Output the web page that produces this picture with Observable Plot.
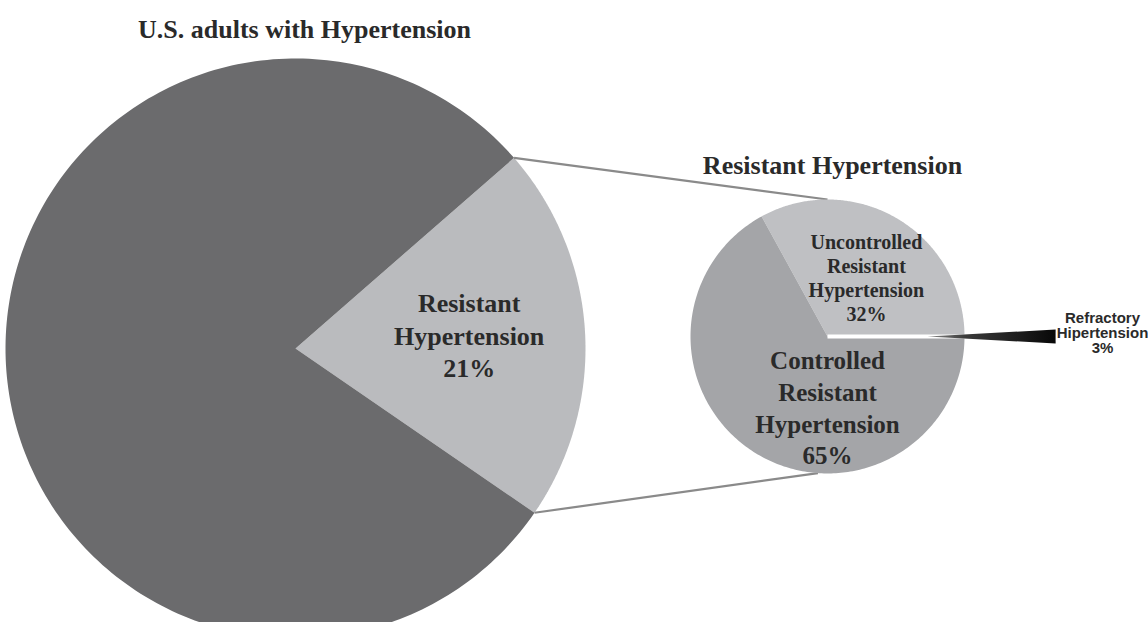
<!DOCTYPE html>
<html><head><meta charset="utf-8">
<script src="https://cdn.jsdelivr.net/npm/d3@7"></script>
<script src="https://cdn.jsdelivr.net/npm/@observablehq/plot@0.6"></script>
<style>html,body{margin:0;padding:0;background:#fff;} svg{display:block;}</style>
</head><body><div id="chart"></div>
<script>
// ---- data ----
const mainTitle = "U.S. adults with Hypertension";
const subTitle = "Resistant Hypertension";
const mainCategories = ["Resistant Hypertension", "Other"];
const mainValues = [21, 79];
const mainColors = ["#babbbe", "#6b6b6d"];
const resistantCategories = ["Uncontrolled Resistant Hypertension", "Controlled Resistant Hypertension"];
const resistantValues = [32, 65];
const resistantColors = ["#bfc0c3", "#a4a5a8"];
const refractoryCategory = "Refractory Hipertension";
const refractoryValue = 3;
const mainLabel = "Resistant\nHypertension\n21%";
const uncontrolledLabel = "Uncontrolled\nResistant\nHypertension\n32%";
const controlledLabel = "Controlled\nResistant\nHypertension\n65%";
const refractoryLabel = "Refractory\nHipertension\n3%";

// ---- layout ----
const W = 1148, H = 622;
const big = {cx: 295, cy: 348, r: 290, start: 48.9};
const small = {cx: 827, cy: 336, r: 137};
const rad = d => d * Math.PI / 180;
const pt = (c, r, a) => ({x: c.cx + r * Math.sin(a), y: c.cy - r * Math.cos(a)});

function slicePoints(c, arc, id, fill, n = 240) {
  const pts = [{x: c.cx, y: c.cy, id, fill}];
  for (let i = 0; i <= n; i++) {
    const a = arc.startAngle + (arc.endAngle - arc.startAngle) * i / n;
    const p = pt(c, c.r, a);
    pts.push({x: p.x, y: p.y, id, fill});
  }
  pts.push({x: c.cx, y: c.cy, id, fill});
  return pts;
}

const bigArcs = d3.pie().sort(null).startAngle(rad(big.start)).endAngle(rad(big.start) + 2 * Math.PI)(mainValues);
const bigRows = bigArcs.flatMap((a, i) => slicePoints(big, a, "m" + i, mainColors[i]));

const totalSmall = d3.sum(resistantValues);
const smallStart = Math.PI / 2 - resistantValues[0] / totalSmall * 2 * Math.PI;
const smallArcs = d3.pie().sort(null).startAngle(smallStart).endAngle(smallStart + 2 * Math.PI)(resistantValues);
const smallRows = smallArcs.flatMap((a, i) => slicePoints(small, a, "s" + i, resistantColors[i]));

// refractory slice: exploded thin wedge along the boundary at 90deg
const boundary = smallArcs[0].endAngle;
const explode = 100;
const spikeHalf = refractoryValue / 100 * Math.PI * 0.58;
const spikeLen = small.r * 0.935;
const apex = pt(small, explode, boundary);
const apexC = {cx: apex.x, cy: apex.y};
const spikeRows = [apex, pt(apexC, spikeLen / Math.cos(spikeHalf), boundary - spikeHalf), pt(apexC, spikeLen / Math.cos(spikeHalf), boundary + spikeHalf), apex];
const gapRows = [{x: small.cx, y: small.cy}, pt(small, small.r + 3, boundary)];

// connectors from resistant wedge edges to the small pie
function connector(aBig, aSmall) {
  const p = pt(big, big.r, aBig), q = pt(small, small.r, aSmall);
  return {x1: p.x, y1: p.y, x2: q.x, y2: q.y};
}
const connectors = [connector(bigArcs[0].startAngle, rad(0)), connector(bigArcs[0].endAngle, rad(184))];

const mid = (bigArcs[0].startAngle + bigArcs[0].endAngle) / 2;
const mainLabelPos = pt(big, big.r * 0.6, mid);
const uncMid = (smallArcs[0].startAngle + smallArcs[0].endAngle) / 2;
const uncPos = pt(small, small.r * 0.5, uncMid);

const serif = "'Liberation Serif', 'Times New Roman', serif";
const sans = "'Liberation Sans', Arial, sans-serif";
const ink = "#2a2a2a";

const defs = () => {
  const g = d3.create("svg:defs");
  const lg = g.append("linearGradient").attr("id", "spikeGrad").attr("x1", "0").attr("x2", "1").attr("y1", "0").attr("y2", "0");
  lg.append("stop").attr("offset", "0").attr("stop-color", "#8a8a8a");
  lg.append("stop").attr("offset", "0.3").attr("stop-color", "#3a3a3a");
  lg.append("stop").attr("offset", "1").attr("stop-color", "#080808");
  return g.node();
};

const chart = Plot.plot({
  width: W, height: H,
  margin: 0,
  x: {domain: [0, W], range: [0, W], axis: null},
  y: {domain: [0, H], range: [0, H], axis: null},
  color: {type: "identity"},
  style: {background: "#fff"},
  marks: [
    defs,
    Plot.line(bigRows, {x: "x", y: "y", z: "id", fill: "fill", stroke: "none"}),
    Plot.link(connectors, {x1: "x1", y1: "y1", x2: "x2", y2: "y2", stroke: "#8a8a8a", strokeWidth: 2.2}),
    Plot.line(smallRows, {x: "x", y: "y", z: "id", fill: "fill", stroke: "none"}),
    Plot.line(gapRows, {x: "x", y: "y", stroke: "#fff", strokeWidth: 4, strokeLinecap: "butt"}),
    Plot.line(spikeRows, {x: "x", y: "y", fill: "url(#spikeGrad)", stroke: "none"}),
    Plot.text([mainTitle], {x: 304, y: 29, text: d => d, fontSize: 26, fontWeight: "bold", fontFamily: serif, fill: ink}),
    Plot.text([subTitle], {x: 832, y: 165, text: d => d, fontSize: 26, fontWeight: "bold", fontFamily: serif, fill: ink}),
    Plot.text([mainLabel], {x: mainLabelPos.x, y: mainLabelPos.y - 4, text: d => d, fontSize: 26, lineHeight: 1.25, fontWeight: "bold", fontFamily: serif, fill: ink}),
    Plot.text([uncontrolledLabel], {x: uncPos.x + 4, y: uncPos.y, text: d => d, fontSize: 20, lineHeight: 1.2, fontWeight: "bold", fontFamily: serif, fill: ink}),
    Plot.text([controlledLabel], {x: small.cx, y: small.cy + 70, text: d => d, fontSize: 25, lineHeight: 1.27, fontWeight: "bold", fontFamily: serif, fill: ink}),
    Plot.text([refractoryLabel], {x: 1102, y: 333, text: d => d, fontSize: 15, lineHeight: 1.0, fontWeight: "bold", fontFamily: sans, fill: ink})
  ]
});
document.getElementById("chart").append(chart);
</script>
</body></html>
